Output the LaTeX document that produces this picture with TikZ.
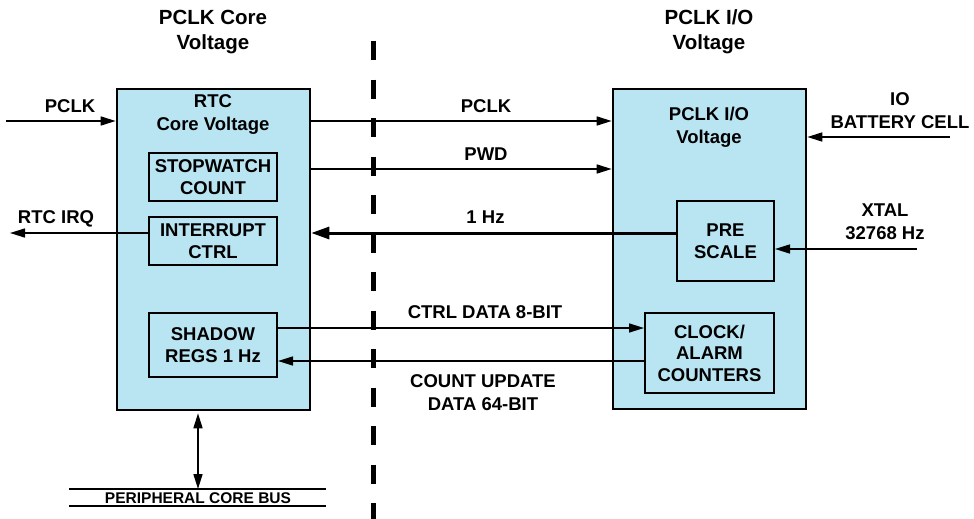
\documentclass[tikz,border=0pt]{standalone}
\usepackage{fontspec}
\setmainfont{Liberation Sans}
\usetikzlibrary{arrows.meta}
\definecolor{boxblue}{RGB}{185,229,243}
\begin{document}
\begin{tikzpicture}[x=1pt,y=-1pt,
  txt/.style={font=\fontsize{18.5}{22.5}\selectfont\bfseries, align=center, inner sep=0pt},
  head/.style={font=\fontsize{20.5}{25}\selectfont\bfseries, align=center, inner sep=0pt},
  bigbox/.style={draw=black, line width=2.6pt, fill=boxblue, minimum width=193pt, minimum height=320pt, inner sep=0pt},
  inbox/.style={draw=black, line width=2pt, fill=boxblue, inner sep=0pt, align=center, font=\fontsize{18.5}{21.5}\selectfont\bfseries},
  conn/.style={line width=1.6pt, -{Triangle[length=15pt,width=9pt]}},
  thick1/.style={line width=3pt, -{Triangle[length=18pt,width=12pt]}},
  busline/.style={line width=1.6pt}
]
\useasboundingbox (0,0) rectangle (974,519);

% dashed separator
\coordinate (dtop) at (373,41);
\coordinate (dbot) at (373,519);
\draw[line width=5pt, dash pattern=on 19pt off 19.5pt] (dtop) -- (dbot);

% big boxes
\node[bigbox, minimum height=321pt] (lbox) at (213.5,249.5) {};
\node[bigbox] (rbox) at (709.5,249) {};

% headings (anchor base = last line)
\node[head, anchor=base] (hl) at (213,50) {PCLK Core\\Voltage};
\node[head, anchor=base] (hr) at (709,50) {PCLK I/O\\Voltage};

% box titles
\node[txt, anchor=base] (lt) at (213,130) {RTC\\Core Voltage};
\node[txt, anchor=base] (rt) at (709,143) {PCLK I/O\\Voltage};

% inner boxes
\node[inbox, minimum width=128pt, minimum height=48pt] (stop) at (213,177) {STOPWATCH\\COUNT};
\node[inbox, minimum width=128pt, minimum height=48pt] (intr) at (213,241) {INTERRUPT\\CTRL};
\node[inbox, minimum width=128pt, minimum height=64pt] (shad) at (213,345) {SHADOW\\REGS 1 Hz};
\node[inbox, minimum width=97pt, minimum height=80pt] (pre) at (725.5,241) {PRE\\SCALE};
\node[inbox, minimum width=129pt, minimum height=80pt] (clk) at (709.5,353) {CLOCK/\\ALARM\\COUNTERS};

% free ends
\coordinate (pclkin) at (6,121);
\coordinate (irqout) at (10,233);
\coordinate (ioin) at (950,137);
\coordinate (xtalin) at (917,249);
\coordinate (ypclk) at (0,121);
\coordinate (ypwd) at (0,169);
\coordinate (y1hz) at (0,233);
\coordinate (yctrl) at (0,328);
\coordinate (ycnt) at (0,361);

% connectors
\draw[conn] (pclkin) -- (pclkin -| lbox.west);
\draw[conn] (irqout -| intr.west) -- (irqout);
\draw[conn] (ypclk -| lbox.east) -- (ypclk -| rbox.west);
\draw[conn] (ypwd -| lbox.east) -- (ypwd -| rbox.west);
\draw[thick1] (y1hz -| pre.west) -- (y1hz -| lbox.east);
\draw[conn] (yctrl -| shad.east) -- (yctrl -| clk.west);
\draw[conn] (ycnt -| clk.west) -- (ycnt -| shad.east);
\draw[conn] (ioin) -- (ioin -| rbox.east);
\draw[conn] (xtalin) -- (xtalin -| pre.east);

% labels
\node[txt, anchor=base] (lpclk) at (70,112) {PCLK};
\node[txt, anchor=base] (lirq) at (56,223) {RTC IRQ};
\node[txt, anchor=base] (lpclk2) at (486,112) {PCLK};
\node[txt, anchor=base] (lpwd) at (486,160) {PWD};
\node[txt, anchor=base] (l1hz) at (485.5,223) {1 Hz};
\node[txt, anchor=base] (lctrl) at (485,318) {CTRL DATA 8-BIT};
\node[txt, anchor=base] (lcnt) at (483,410) {COUNT UPDATE\\DATA 64-BIT};
\node[txt, anchor=base] (lio) at (900,128) {IO\\BATTERY CELL};
\node[txt, anchor=base] (lxtal) at (885,239) {XTAL\\32768 Hz};

% bus
\coordinate (bus1l) at (69,489);
\coordinate (bus1r) at (326,489);
\coordinate (bus2l) at (69,506);
\coordinate (bus2r) at (326,506);
\draw[busline] (bus1l) -- (bus1r);
\draw[busline] (bus2l) -- (bus2r);
\node[font=\fontsize{15.5}{18}\selectfont\bfseries, inner sep=0pt, anchor=base] (lbus) at (198,503) {PERIPHERAL CORE BUS};
\coordinate (busx) at (198,0);
\draw[line width=1.6pt, {Triangle[length=15pt,width=9pt]}-{Triangle[length=15pt,width=9pt]}] (busx |- lbox.south) ++(0,2) -- (busx |- bus1l);
\end{tikzpicture}
\end{document}
